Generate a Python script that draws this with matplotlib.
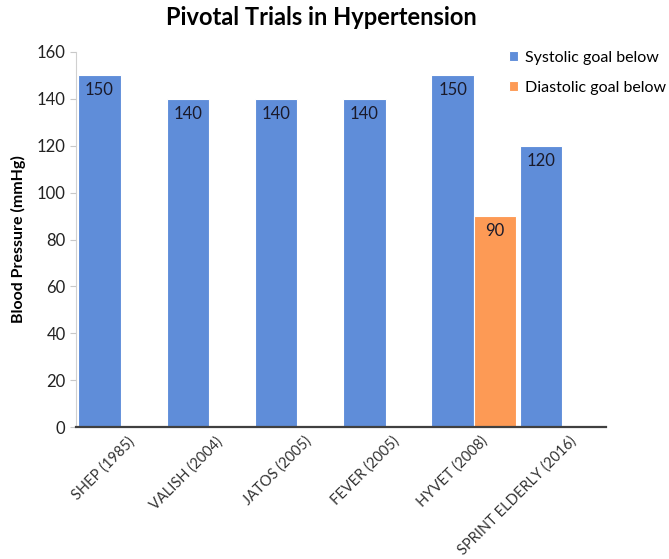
import numpy as np
import matplotlib.pyplot as plt
import matplotlib.transforms as mtransforms

plt.rcParams['font.family'] = ['Lato', 'DejaVu Sans']

trials = ['SHEP (1985)', 'VALISH (2004)', 'JATOS (2005)', 'FEVER (2005)',
          'HYVET (2008)', 'SPRINT ELDERLY (2016)']
systolic = [150, 140, 140, 140, 150, 120]
diastolic = [None, None, None, None, 90, None]

blue = '#5f8dd9'
orange = '#fd9a55'

fig = plt.figure(figsize=(6.69, 5.59), dpi=100)
ax = fig.add_axes([0.1136, 0.236, 0.792, 0.671])

x = np.arange(len(trials))
w = 0.48
# systolic bars sit in the left slot of each group
sx = x - w / 2 + 0.005
ax.bar(sx, systolic, w, color=blue, edgecolor='white', lw=0.8,
       label='Systolic goal below')
dx = np.array([i for i, v in enumerate(diastolic) if v is not None])
dv = [v for v in diastolic if v is not None]
ax.bar(dx + w / 2 + 0.005, dv, w, color=orange, edgecolor='white', lw=0.8,
       label='Diastolic goal below')

for xi, v in zip(sx, systolic):
    ax.text(xi, v - 3, str(v), ha='center', va='top', fontsize=12, color='#1a1a2a')
for xi, v in zip(dx + w / 2 + 0.005, dv):
    ax.text(xi, v - 3, str(v), ha='center', va='top', fontsize=12, color='#1a1a2a')

ax.set_xlim(-0.5, len(trials) - 0.5)
ax.set_ylim(0, 160)
ax.set_yticks(range(0, 161, 20))
ax.tick_params(axis='y', labelsize=12, color='#c8c8c8', length=4, labelcolor='#222222')
ax.set_xticks(x)
ax.set_xticklabels(trials, rotation=45, ha='right', rotation_mode='anchor',
                   fontsize=10.5, color='#333333')
ax.tick_params(axis='x', length=0, pad=5)
off = mtransforms.ScaledTranslation(0.07, 0, fig.dpi_scale_trans)
for lab in ax.get_xticklabels():
    lab.set_transform(lab.get_transform() + off)

for s in ['top', 'right']:
    ax.spines[s].set_visible(False)
ax.spines['left'].set_color('#d0d0d0')
ax.spines['bottom'].set_color('#404040')
ax.spines['bottom'].set_linewidth(1.6)

ax.set_ylabel('Blood Pressure (mmHg)', fontsize=11.5, fontweight='bold', labelpad=8)
fig.suptitle('Pivotal Trials in Hypertension', fontsize=17, fontweight='bold',
             x=0.48, y=0.99)

fig.legend(loc='upper left', bbox_to_anchor=(0.74, 0.935), frameon=False,
           fontsize=11.5, handlelength=0.55, handleheight=0.55, handletextpad=0.4,
           labelspacing=1.0)

fig.savefig('out.png', dpi=100)
